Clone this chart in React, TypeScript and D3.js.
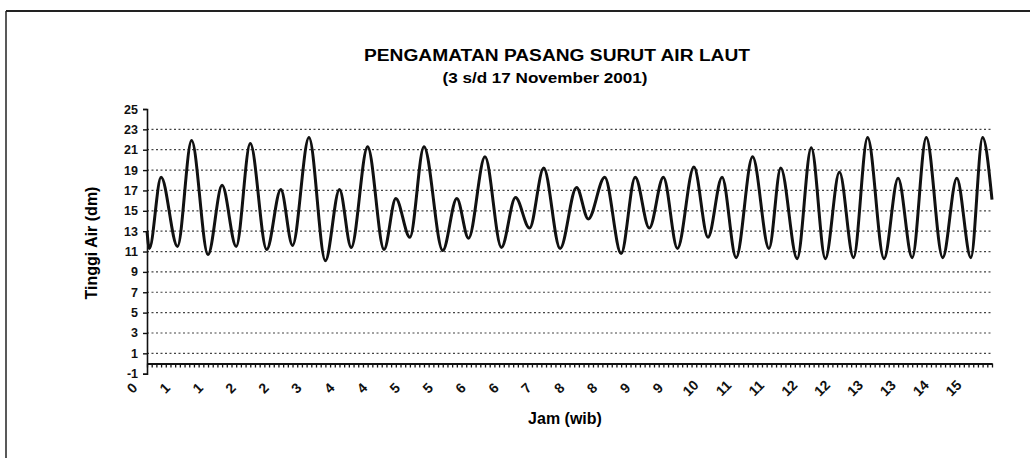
import React, { useEffect, useRef } from 'react';
import * as d3 from 'd3';

// jam ke- (dihitung dari awal pengamatan) pada titik balik pasang / surut
const jam = [
  0, 1, 6, 13, 19, 26, 32, 38, 44, 51, 57, 62, 69, 76, 82, 87, 94, 101, 106, 112,
  118, 126, 132, 137, 144, 151, 157, 163, 169, 176, 183, 188, 195, 202, 208, 214,
  220, 226, 233, 239, 245, 251, 258, 265, 270, 277, 283, 289, 295, 301, 307, 314,
  320, 326, 332, 339, 345, 351, 356, 360,
];

// tinggi air (dm)
const tinggi = [
  13.0, 11.3, 18.3, 11.5, 21.9, 10.7, 17.5, 11.5, 21.6, 11.2, 17.1, 11.6, 22.2, 10.1, 17.1, 11.4, 21.3, 11.2, 16.2, 12.4,
  21.3, 11.1, 16.2, 12.3, 20.3, 11.4, 16.3, 13.3, 19.2, 11.3, 17.3, 14.2, 18.3, 10.8, 18.3, 13.3,
  18.3, 11.3, 19.3, 12.4, 18.3, 10.4, 20.3, 11.3, 19.2, 10.3, 21.2, 10.3, 18.8, 10.4, 22.2, 10.3,
  18.2, 10.4, 22.2, 10.4, 18.2, 10.4, 22.2, 16.1,
];

const yTicks = [-1, 1, 3, 5, 7, 9, 11, 13, 15, 17, 19, 21, 23, 25];
const gridValues = [1, 3, 5, 7, 9, 11, 13, 15, 17, 19, 21, 23];
const xTickLabels = [
  '0', '1', '1', '2', '2', '3', '4', '4', '5', '5', '6', '6', '7',
  '8', '8', '9', '9', '10', '11', '11', '12', '12', '13', '13', '14', '15',
];

const App: React.FC = () => {
  const chartRef = useRef<SVGSVGElement>(null);

  useEffect(() => {
    if (!chartRef.current) return;
    d3.select(chartRef.current).selectAll('*').remove();

    const svg = d3.select(chartRef.current);
    const font = 'Arial, "Liberation Sans", sans-serif';

    const x = d3.scaleLinear().domain([0, 360]).range([147, 992]);
    const y = d3.scaleLinear().domain([-1, 25]).range([373.7, 109]);

    svg.append('rect').attr('width', 1030).attr('height', 467).attr('fill', '#fff');

    // frame of the scanned page
    svg.append('line').attr('x1', 6).attr('x2', 1030).attr('y1', 11).attr('y2', 11)
      .attr('stroke', '#222').attr('stroke-width', 2);
    svg.append('line').attr('x1', 6).attr('x2', 6).attr('y1', 11).attr('y2', 458)
      .attr('stroke', '#222').attr('stroke-width', 1.5);

    // title
    svg.append('text')
      .attr('x', 557).attr('y', 61)
      .attr('text-anchor', 'middle')
      .attr('font-family', font).attr('font-weight', 'bold').attr('font-size', 16)
      .attr('textLength', 386).attr('lengthAdjust', 'spacingAndGlyphs')
      .text('PENGAMATAN PASANG SURUT AIR LAUT');
    svg.append('text')
      .attr('x', 545).attr('y', 83)
      .attr('text-anchor', 'middle')
      .attr('font-family', font).attr('font-weight', 'bold').attr('font-size', 15)
      .attr('textLength', 205).attr('lengthAdjust', 'spacingAndGlyphs')
      .text('(3 s/d 17 November  2001)');

    // gridlines
    svg.append('g')
      .selectAll('line')
      .data(gridValues)
      .enter()
      .append('line')
      .attr('x1', x(0)).attr('x2', x(360))
      .attr('y1', d => y(d)).attr('y2', d => y(d))
      .attr('stroke', '#444')
      .attr('stroke-width', 1.2)
      .attr('stroke-dasharray', '2,2.5');

    // Y axis
    const yAxis = svg.append('g')
      .attr('transform', `translate(${x(0)},0)`)
      .call(d3.axisLeft(y).tickValues(yTicks).tickSize(4).tickPadding(5).tickFormat(d => `${d}`));
    yAxis.select('.domain').attr('stroke', '#111').attr('stroke-width', 1.6);
    yAxis.selectAll('line').attr('stroke', '#111').attr('stroke-width', 1.4);
    yAxis.selectAll('text')
      .attr('font-family', font).attr('font-weight', 'bold').attr('font-size', 12.5).attr('fill', '#111');

    // X axis at y = 0 with dense tick comb
    const xAxis = svg.append('g')
      .attr('transform', `translate(0,${y(0)})`)
      .call(d3.axisBottom(x).tickValues(d3.range(0, 361, 2)).tickSize(4).tickSizeOuter(0).tickFormat(() => ''));
    xAxis.select('.domain').attr('stroke', '#111').attr('stroke-width', 2);
    xAxis.selectAll('line').attr('stroke', '#111').attr('stroke-width', 1.3);

    // rotated day labels, one every 14 hours
    svg.append('g')
      .selectAll('text')
      .data(xTickLabels)
      .enter()
      .append('text')
      .attr('transform', (d, i) => `translate(${x(i * 14) - 15},${388}) rotate(-45)`)
      .attr('text-anchor', 'middle')
      .attr('dy', '0.35em')
      .attr('font-family', font).attr('font-weight', 'bold').attr('font-size', 14)
      .attr('fill', '#111')
      .text(d => d);

    // axis titles
    svg.append('text')
      .attr('x', 565).attr('y', 424)
      .attr('text-anchor', 'middle')
      .attr('font-family', font).attr('font-weight', 'bold').attr('font-size', 16)
      .text('Jam (wib)');
    svg.append('text')
      .attr('transform', 'translate(97,243) rotate(-90)')
      .attr('text-anchor', 'middle')
      .attr('font-family', font).attr('font-weight', 'bold').attr('font-size', 16)
      .text('Tinggi Air (dm)');

    // tide curve
    const pts = jam.map((h, i) => [h, tinggi[i]] as [number, number]);
    const line = d3.line<[number, number]>()
      .x(d => x(d[0]))
      .y(d => y(d[1]))
      .curve(d3.curveMonotoneX);
    svg.append('path')
      .datum(pts)
      .attr('d', line)
      .attr('fill', 'none')
      .attr('stroke', '#111')
      .attr('stroke-width', 3)
      .attr('stroke-linejoin', 'round');
  }, []);

  return (
    <svg
      ref={chartRef}
      width={1030}
      height={467}
      style={{ position: 'absolute', left: 0, top: 0 }}
    />
  );
};

export default App;
